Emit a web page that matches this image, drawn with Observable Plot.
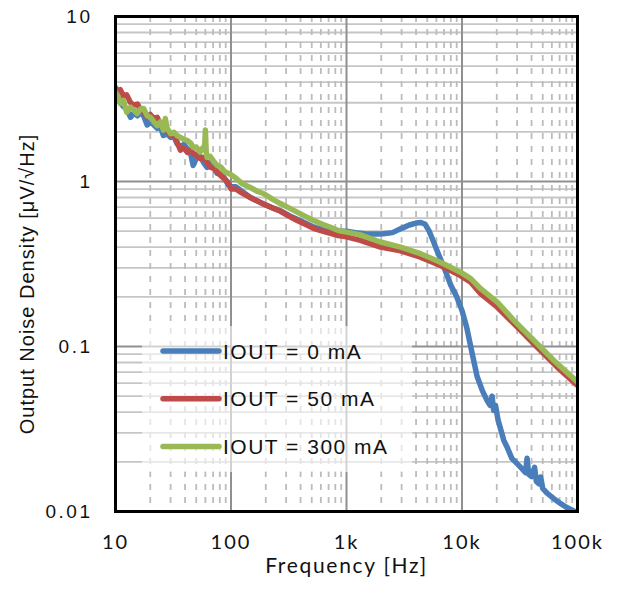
<!DOCTYPE html>
<html><head><meta charset="utf-8">
<script src="https://cdn.jsdelivr.net/npm/d3@7"></script>
<script src="https://cdn.jsdelivr.net/npm/@observablehq/plot@0.6"></script>
<style>body{margin:0;background:#fff}</style>
</head><body><div id="chart"></div>
<script>
const seriesNames = ["IOUT = 0 mA", "IOUT = 50 mA", "IOUT = 300 mA"];
const seriesColors = ["#4a7ebb", "#be4b48", "#98b954"];

const blueFreq = [10,10.5,11,11.7,12.5,13.5,14.5,15.5,16.5,17.5,18.8,20,21.5,23,24.5,26,28,30,32,34,36.5,39,42,45,47,50,54,58,62,66,71,76,82,88,95,100,110,125,147,170,191,230,268,320,374,440,518,620,726,850,1000,1200,1500,1750,2000,2500,3000,3500,4000,4400,4800,5200,5600,6000,6500,7000,7500,8000,9000,10000,11000,12000,13500,15000,16500,17500,18200,18800,19500,20500,21500,23000,24600,27000,30000,33000,35500,36600,37800,40000,42500,44000,46500,48000,50000,54700,62000,71300,80000,92000,100000];
const blueNoise = [3.15,3.35,3.0,2.85,2.75,2.45,2.6,2.5,2.65,2.5,2.2,2.3,2.2,2.1,2.15,1.9,1.95,1.85,1.88,1.7,1.62,1.68,1.58,1.45,1.25,1.38,1.42,1.3,1.22,1.3,1.2,1.12,1.1,1.04,0.95,0.93,0.93,0.87,0.8,0.76,0.73,0.69,0.665,0.62,0.59,0.56,0.53,0.51,0.5,0.5,0.5,0.49,0.48,0.48,0.48,0.49,0.52,0.545,0.56,0.565,0.55,0.5,0.44,0.39,0.34,0.3,0.265,0.235,0.2,0.165,0.13,0.097,0.066,0.054,0.047,0.044,0.05,0.041,0.044,0.036,0.032,0.027,0.0245,0.021,0.0195,0.0182,0.0172,0.021,0.0168,0.0163,0.0185,0.0152,0.0147,0.0162,0.0138,0.0129,0.012,0.0112,0.0106,0.0101,0.0098];

const redFreq = [10,10.5,11,11.7,12.5,13.5,14.5,15.5,16.5,17.5,18.8,20,21.5,23,24.5,26,28,30,32,34,36.5,39,42,45,47,50,54,58,62,66,71,76,82,88,95,100,110,125,147,170,191,230,268,320,374,440,518,620,726,850,1000,1320,1970,2940,4370,6500,9700,11900,14500,20200,30100,44800,66700,100000];
const redNoise = [3.7,3.55,3.6,3.3,3.35,3.0,2.9,2.95,2.7,2.65,2.45,2.55,2.4,2.45,2.2,2.1,2.05,1.9,1.95,1.75,1.55,1.6,1.5,1.55,1.48,1.45,1.38,1.4,1.3,1.22,1.2,1.15,1.08,1.04,0.98,0.9,0.9,0.85,0.8,0.76,0.73,0.69,0.66,0.615,0.58,0.55,0.52,0.5,0.485,0.47,0.462,0.44,0.4,0.38,0.348,0.31,0.269,0.245,0.209,0.173,0.131,0.099,0.075,0.058];

const greenFreq = [10,10.5,11,11.7,12.5,13.5,14.5,15.4,16.5,17.5,18.8,20,21.5,23,24.5,26,27,28,30,32,34,36.5,39,42,45,47,50,54,57,59,60,61,62,66,71,76,82,88,95,100,110,125,147,170,191,230,268,320,374,440,518,620,726,850,1000,1320,1970,2940,4370,6500,9700,11900,14500,20200,28100,41900,62400,100000];
const greenNoise = [3.45,3.3,2.97,3.1,2.63,2.82,2.7,2.58,2.75,2.77,2.5,2.45,2.3,2.18,2.3,2.05,2.41,2.1,1.95,1.99,1.9,1.85,1.8,1.77,1.7,1.61,1.62,1.51,1.6,1.55,2.05,1.5,1.4,1.42,1.32,1.25,1.22,1.15,1.12,1.1,1.05,0.97,0.92,0.87,0.846,0.78,0.735,0.69,0.652,0.615,0.58,0.55,0.528,0.505,0.493,0.475,0.43,0.4,0.365,0.324,0.282,0.258,0.224,0.186,0.144,0.109,0.0823,0.061];

const xTicks = [10, 100, 1000, 10000, 100000];
const xTickLabels = ["10", "100", "1k", "10k", "100k"];
const yTicks = [0.01, 0.1, 1, 10];
const yTickLabels = ["0.01", "0.1", "1", "10"];
const xTitle = "Frequency [Hz]";
const yTitle = "Output Noise Density [μV/√Hz]";
const minorSteps = [2,3,4,5,6,7,8,9];
const xDecades = [10, 100, 1000, 10000];
const yDecades = [0.01, 0.1, 1];
const xMajor = [100, 1000, 10000];
const yMajor = [0.1, 1];

const xMinor = xDecades.flatMap(d => minorSteps.map(k => d * k));
const yMinor = yDecades.flatMap(d => minorSteps.map(k => d * k));
const xLabelMap = new Map(xTicks.map((t, i) => [t, xTickLabels[i]]));
const yLabelMap = new Map(yTicks.map((t, i) => [t, yTickLabels[i]]));

const rows = [];
[[blueFreq, blueNoise], [redFreq, redNoise], [greenFreq, greenNoise]].forEach(([F, V], s) => {
  F.forEach((f, i) => rows.push({f, v: V[i], s: seriesNames[s]}));
});

const chart = Plot.plot({
  width: 621, height: 603,
  marginLeft: 115, marginRight: 44, marginTop: 16, marginBottom: 92,
  style: {fontFamily: "Liberation Sans, Arial, sans-serif", background: "white", color: "#111"},
  x: {type: "log", domain: [10, 100000]},
  y: {type: "log", domain: [0.01, 10]},
  color: {domain: seriesNames, range: seriesColors},
  marks: [
    Plot.ruleY(yMinor, {stroke: "#c6c6c6", strokeWidth: 1.8}),
    Plot.ruleX(xMinor, {stroke: "#bcbcbc", strokeWidth: 1.8, strokeDasharray: "6,7"}),
    Plot.ruleX(xMajor, {stroke: "#909090", strokeWidth: 2}),
    Plot.ruleY(yMajor, {stroke: "#909090", strokeWidth: 2}),
    Plot.line(rows, {x: "f", y: "v", z: "s", stroke: "s", strokeWidth: 5.5, strokeLinejoin: "round", strokeLinecap: "round", clip: true}),
    Plot.frame({stroke: "#000", strokeWidth: 3}),
    Plot.axisX(xTicks, {tickSize: 0, tickPadding: 23, tickFormat: d => xLabelMap.get(d), fontSize: 20, fontFamily: "Lato", label: null}),
    Plot.axisY(yTicks, {tickSize: 0, tickPadding: 23, tickFormat: d => yLabelMap.get(d), fontSize: 19, label: null}),
    Plot.text([xTitle], {text: d => d, frameAnchor: "bottom", dy: 61, fontSize: 21, fontFamily: "Lato"}),
    Plot.text([yTitle], {text: d => d, frameAnchor: "left", textAnchor: "middle", rotate: -90, dx: -88, dy: 20, fontSize: 20})
  ]
});

const svg = d3.select(chart);
svg.selectAll('[aria-label="x-axis tick label"] text').attr("letter-spacing", 2);
svg.selectAll('[aria-label="y-axis tick label"] text').attr("letter-spacing", 2.5);
svg.selectAll("text").filter(function () { return this.textContent === xTitle; }).attr("letter-spacing", 1.7);
svg.selectAll("text").filter(function () { return this.textContent === yTitle; }).attr("letter-spacing", 1);

// legend
const lg = svg.append("g").attr("aria-label", "legend");
lg.append("rect").attr("x", 142).attr("y", 326).attr("width", 270).attr("height", 146)
  .attr("fill", "white").attr("fill-opacity", 0.6);
seriesNames.forEach((name, i) => {
  const cy = 351 + i * 47.7;
  lg.append("line").attr("x1", 163).attr("x2", 219).attr("y1", cy).attr("y2", cy)
    .attr("stroke", seriesColors[i]).attr("stroke-width", 5.5).attr("stroke-linecap", "round");
  lg.append("text").attr("x", 223).attr("y", cy + 7.5).text(name)
    .attr("text-anchor", "start")
    .attr("font-size", 21).attr("letter-spacing", 1.5).attr("fill", "#111")
    .attr("font-family", "Liberation Sans, Arial, sans-serif");
});

document.getElementById("chart").appendChild(chart);
</script>
</body></html>
